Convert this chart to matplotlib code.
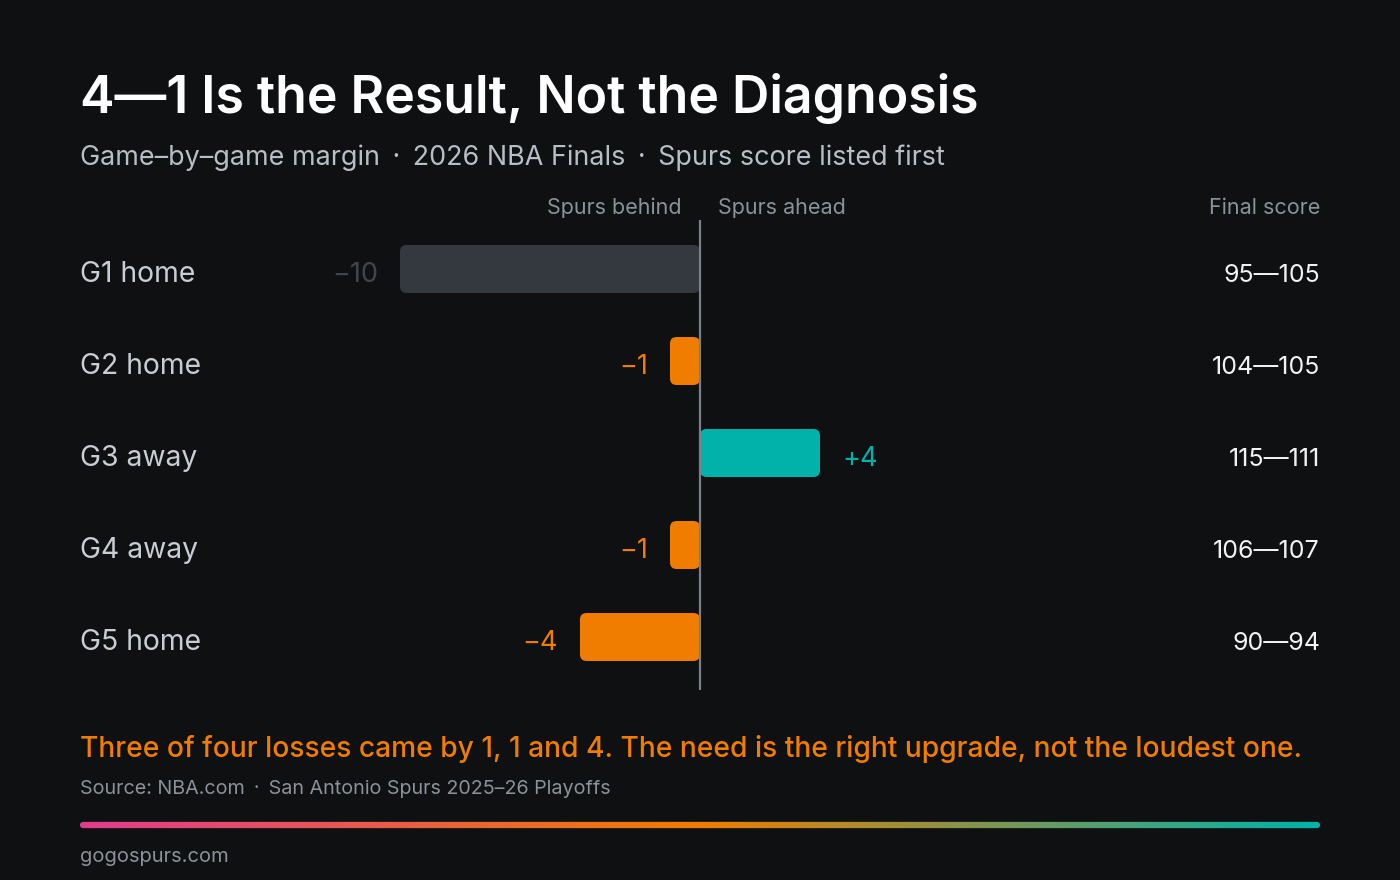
import matplotlib
matplotlib.use('Agg')
import matplotlib.pyplot as plt
import numpy as np
from matplotlib.patches import FancyBboxPatch
from matplotlib.collections import LineCollection
from matplotlib.colors import LinearSegmentedColormap

plt.rcParams['font.family'] = ['Inter', 'Noto Sans CJK SC', 'DejaVu Sans']

games = ['G1 home', 'G2 home', 'G3 away', 'G4 away', 'G5 home']
spurs_pts = [95, 104, 115, 106, 90]
opp_pts = [105, 105, 111, 107, 94]
margins = [-10, -1, 4, -1, -4]
bar_colors = ['#343940', '#f07c00', '#00b2aa', '#f07c00', '#f07c00']
label_colors = ['#41464d', '#f07c00', '#00b2aa', '#f07c00', '#f07c00']

BG = '#0f1012'
W, H = 1400, 880
SEP = ' \u2009\u00b7\u2009 '

fig = plt.figure(figsize=(14, 8.8), dpi=100, facecolor=BG)


def fx(x):
    return x / W


def fy(y):
    return 1 - y / H


# bar axes: zero at x=700px, 30px per point, rows 92px apart
ax = fig.add_axes([fx(80), fy(690), fx(1240), (690 - 220) / H])
ax.set_facecolor(BG)
xl = (700 - 80) / 30
ax.set_xlim(-xl, xl)
ax.set_ylim(4 + (690 - 637) / 92, -(269 - 220) / 92)
ax.axis('off')

bh = 48 / 92
asp = 30 / 92
for i, m in enumerate(margins):
    x0 = min(0, m)
    ax.add_patch(FancyBboxPatch((x0, i - bh / 2), abs(m), bh,
                                boxstyle='round,pad=0,rounding_size=0.22',
                                mutation_aspect=asp, fc=bar_colors[i], ec='none', zorder=2))
    txt = f'+{m}' if m > 0 else f'\u2212{abs(m)}'
    gap = 22 / 30
    if m < 0:
        ax.text(m - gap, i + 0.14, txt, ha='right', va='baseline', fontsize=19.5,
                color=label_colors[i])
    else:
        ax.text(m + gap, i + 0.14, txt, ha='left', va='baseline', fontsize=19.5,
                color=label_colors[i])
    ax.text(-xl, i + 0.14, games[i], ha='left', va='baseline', fontsize=20.4, color='#c9cdd3')
    ax.text(xl, i + 0.14, f'{spurs_pts[i]}\u2014{opp_pts[i]}', ha='right', va='baseline',
            fontsize=18, color='#f2f2f2')

ax.axvline(0, color='#7a8089', lw=1.6, zorder=3)

# titles
fig.text(fx(80), fy(113), '4\u20141 Is the Result, Not the Diagnosis', fontsize=37.3,
         fontweight='semibold', color='white', ha='left', va='baseline')
fig.text(fx(80), fy(165), 'Game\u2013by\u2013game margin' + SEP + '2026 NBA Finals' + SEP + 'Spurs score listed first',
         fontsize=19.4, color='#b9bec6', ha='left', va='baseline')

# column headers
hdr = '#8b929a'
fig.text(fx(682), fy(214), 'Spurs behind', fontsize=15.5, color=hdr, ha='right', va='baseline')
fig.text(fx(718), fy(214), 'Spurs ahead', fontsize=15.5, color=hdr, ha='left', va='baseline')
fig.text(fx(1320), fy(214), 'Final score', fontsize=15.5, color=hdr, ha='right', va='baseline')

# takeaway and source
fig.text(fx(80), fy(757), 'Three of four losses came by 1, 1 and 4. The need is the right upgrade, not the loudest one.',
         fontsize=20.3, fontweight='medium', color='#f07c00', ha='left', va='baseline')
fig.text(fx(80), fy(794), 'Source: NBA.com' + SEP + 'San Antonio Spurs 2025\u201326 Playoffs',
         fontsize=14.2, color='#8b929a', ha='left', va='baseline')
fig.text(fx(80), fy(862), 'gogospurs.com', fontsize=14.5, color='#8b929a', ha='left', va='baseline')

# gradient rule
ov = fig.add_axes([0, 0, 1, 1], facecolor='none')
ov.set_xlim(0, W)
ov.set_ylim(H, 0)
ov.axis('off')
cmap = LinearSegmentedColormap.from_list('rule', [(0, '#e03c8c'), (0.5, '#f07c00'), (1, '#00b2aa')])
xs = np.linspace(83, 1317, 400)
segs = [[(xs[k], 825), (xs[k + 1], 825)] for k in range(len(xs) - 1)]
lc = LineCollection(segs, colors=cmap(np.linspace(0, 1, len(segs))), linewidths=4.5,
                    capstyle='round')
ov.add_collection(lc)

fig.savefig('out.png', dpi=100, facecolor=BG)
